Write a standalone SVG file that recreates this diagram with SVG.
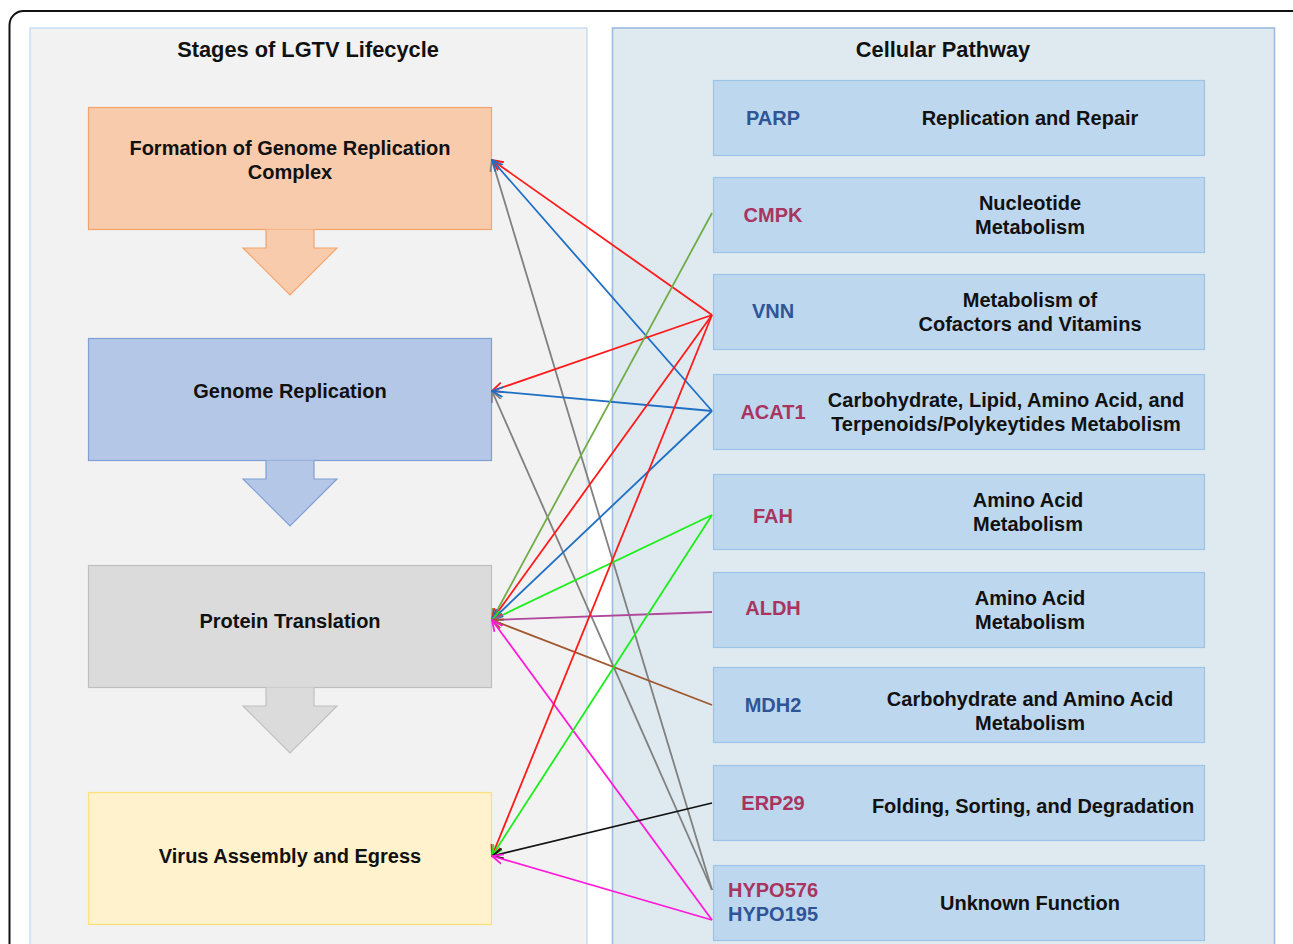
<svg xmlns="http://www.w3.org/2000/svg" width="1293" height="944" viewBox="0 0 1293 944">
<style>
text{font-family:"Liberation Sans",Arial,sans-serif;font-weight:bold;font-size:20px;text-anchor:middle;dominant-baseline:central;fill:#111}
.t{font-size:21.8px}
.pb{fill:#bdd7ee;stroke:#9dc3e6;stroke-width:1.2}
.gb{fill:#2f5597}
.gr{fill:#a9345f}
.c{fill:none;stroke-width:1.8}
</style>
<defs>
<marker id="m-red" viewBox="0 0 12 12" refX="11" refY="6" markerWidth="12" markerHeight="12" markerUnits="userSpaceOnUse" orient="auto"><path d="M0,1 L11,6 L0,11" fill="none" stroke="#ff1a1a" stroke-width="1.8"/></marker>
<marker id="m-blue" viewBox="0 0 12 12" refX="11" refY="6" markerWidth="12" markerHeight="12" markerUnits="userSpaceOnUse" orient="auto"><path d="M0,1 L11,6 L0,11" fill="none" stroke="#1f6fc4" stroke-width="1.8"/></marker>
<marker id="m-gray" viewBox="0 0 12 12" refX="11" refY="6" markerWidth="12" markerHeight="12" markerUnits="userSpaceOnUse" orient="auto"><path d="M0,1 L11,6 L0,11" fill="none" stroke="#808080" stroke-width="1.8"/></marker>
<marker id="m-olive" viewBox="0 0 12 12" refX="11" refY="6" markerWidth="12" markerHeight="12" markerUnits="userSpaceOnUse" orient="auto"><path d="M0,1 L11,6 L0,11" fill="none" stroke="#70ad47" stroke-width="1.8"/></marker>
<marker id="m-lime" viewBox="0 0 12 12" refX="11" refY="6" markerWidth="12" markerHeight="12" markerUnits="userSpaceOnUse" orient="auto"><path d="M0,1 L11,6 L0,11" fill="none" stroke="#1aef1a" stroke-width="1.8"/></marker>
<marker id="m-purple" viewBox="0 0 12 12" refX="11" refY="6" markerWidth="12" markerHeight="12" markerUnits="userSpaceOnUse" orient="auto"><path d="M0,1 L11,6 L0,11" fill="none" stroke="#b0479a" stroke-width="1.8"/></marker>
<marker id="m-brown" viewBox="0 0 12 12" refX="11" refY="6" markerWidth="12" markerHeight="12" markerUnits="userSpaceOnUse" orient="auto"><path d="M0,1 L11,6 L0,11" fill="none" stroke="#a0562e" stroke-width="1.8"/></marker>
<marker id="m-black" viewBox="0 0 12 12" refX="11" refY="6" markerWidth="12" markerHeight="12" markerUnits="userSpaceOnUse" orient="auto"><path d="M0,1 L11,6 L0,11" fill="none" stroke="#111" stroke-width="1.8"/></marker>
<marker id="m-mag" viewBox="0 0 12 12" refX="11" refY="6" markerWidth="12" markerHeight="12" markerUnits="userSpaceOnUse" orient="auto"><path d="M0,1 L11,6 L0,11" fill="none" stroke="#ff1ad9" stroke-width="1.8"/></marker>
</defs>
<rect width="1293" height="944" fill="#fff"/>
<rect x="9.5" y="11" width="1300" height="960" rx="14" fill="none" stroke="#111" stroke-width="2"/>

<g id="panel-stages">
<rect x="30" y="28" width="557" height="930" fill="#f2f2f2" stroke="#bdd7ee" stroke-width="1.2"/>
<text x="308" y="49" class="t">Stages of LGTV Lifecycle</text>
</g>
<g id="panel-pathway">
<rect x="612.5" y="28" width="662" height="930" fill="#deeaf0" stroke="#9dbbe0" stroke-width="1.6"/>
<text x="943" y="49" class="t">Cellular Pathway</text>
</g>

<g id="stage-formation">
<rect x="88.5" y="107.5" width="403" height="122" fill="#f8cbad" stroke="#f4a36b" stroke-width="1.2"/>
<path d="M266,229.5 V248 H243 L290,295 L337,248 H314 V229.5" fill="#f8cbad" stroke="#f4a36b" stroke-width="1.2"/>
<text x="290" y="148">Formation of Genome Replication</text>
<text x="290" y="172">Complex</text>
</g>
<g id="stage-genome">
<rect x="88.5" y="338.5" width="403" height="122" fill="#b4c7e7" stroke="#7f9fd6" stroke-width="1.2"/>
<path d="M266,460.5 V479 H243 L290,526 L337,479 H314 V460.5" fill="#b4c7e7" stroke="#7f9fd6" stroke-width="1.2"/>
<text x="290" y="391">Genome Replication</text>
</g>
<g id="stage-protein">
<rect x="88.5" y="565.5" width="403" height="122" fill="#dbdbdb" stroke="#bfbfbf" stroke-width="1.2"/>
<path d="M266,687.5 V706 H243 L290,753 L337,706 H314 V687.5" fill="#dbdbdb" stroke="#bfbfbf" stroke-width="1.2"/>
<text x="290" y="621">Protein Translation</text>
</g>
<g id="stage-virus">
<rect x="88.5" y="792.5" width="403" height="132" fill="#fff2cc" stroke="#ffe07a" stroke-width="1.2"/>
<text x="290" y="856">Virus Assembly and Egress</text>
</g>

<g id="parp"><rect class="pb" x="713.5" y="80.5" width="491" height="75"/><text class="gb" x="773" y="118">PARP</text><text x="1030" y="118">Replication and Repair</text></g>
<g id="cmpk"><rect class="pb" x="713.5" y="177.5" width="491" height="75"/><text class="gr" x="773" y="215">CMPK</text><text x="1030" y="203">Nucleotide</text><text x="1030" y="227">Metabolism</text></g>
<g id="vnn"><rect class="pb" x="713.5" y="274.5" width="491" height="75"/><text class="gb" x="773" y="311">VNN</text><text x="1030" y="300">Metabolism of</text><text x="1030" y="324">Cofactors and Vitamins</text></g>
<g id="acat1"><rect class="pb" x="713.5" y="374.5" width="491" height="75"/><text class="gr" x="773" y="412">ACAT1</text><text x="1006" y="400">Carbohydrate, Lipid, Amino Acid, and</text><text x="1006" y="424">Terpenoids/Polykeytides Metabolism</text></g>
<g id="fah"><rect class="pb" x="713.5" y="474.5" width="491" height="75"/><text class="gr" x="773" y="516">FAH</text><text x="1028" y="500">Amino Acid</text><text x="1028" y="524">Metabolism</text></g>
<g id="aldh"><rect class="pb" x="713.5" y="572.5" width="491" height="75"/><text class="gr" x="773" y="608">ALDH</text><text x="1030" y="598">Amino Acid</text><text x="1030" y="622">Metabolism</text></g>
<g id="mdh2"><rect class="pb" x="713.5" y="667.5" width="491" height="75"/><text class="gb" x="773" y="705">MDH2</text><text x="1030" y="699">Carbohydrate and Amino Acid</text><text x="1030" y="723">Metabolism</text></g>
<g id="erp29"><rect class="pb" x="713.5" y="765.5" width="491" height="75"/><text class="gr" x="773" y="803">ERP29</text><text x="1033" y="806">Folding, Sorting, and Degradation</text></g>
<g id="hypo"><rect class="pb" x="713.5" y="865.5" width="491" height="75"/><text class="gr" x="773" y="890">HYPO576</text><text class="gb" x="773" y="914">HYPO195</text><text x="1030" y="903">Unknown Function</text></g>

<g id="connectors">
<line class="c" stroke="#808080" x1="712" y1="890" x2="492" y2="160" marker-end="url(#m-gray)"/>
<line class="c" stroke="#808080" x1="712" y1="890" x2="492" y2="391" marker-end="url(#m-gray)"/>
<line class="c" stroke="#ff1a1a" x1="712" y1="315" x2="492" y2="160" marker-end="url(#m-red)"/>
<line class="c" stroke="#1f6fc4" x1="712" y1="411" x2="492" y2="160" marker-end="url(#m-blue)"/>
<line class="c" stroke="#ff1a1a" x1="712" y1="315" x2="492" y2="391" marker-end="url(#m-red)"/>
<line class="c" stroke="#1f6fc4" x1="712" y1="411" x2="492" y2="391" marker-end="url(#m-blue)"/>
<line class="c" stroke="#70ad47" x1="712" y1="213" x2="492" y2="620" marker-end="url(#m-olive)"/>
<line class="c" stroke="#ff1a1a" x1="712" y1="315" x2="492" y2="620" marker-end="url(#m-red)"/>
<line class="c" stroke="#1f6fc4" x1="712" y1="411" x2="492" y2="620" marker-end="url(#m-blue)"/>
<line class="c" stroke="#1aef1a" x1="712" y1="515" x2="492" y2="620" marker-end="url(#m-lime)"/>
<line class="c" stroke="#b0479a" x1="712" y1="612" x2="492" y2="620" marker-end="url(#m-purple)"/>
<line class="c" stroke="#a0562e" x1="712" y1="705" x2="492" y2="620" marker-end="url(#m-brown)"/>
<line class="c" stroke="#ff1ad9" x1="712" y1="920" x2="492" y2="620" marker-end="url(#m-mag)"/>
<line class="c" stroke="#ff1a1a" x1="712" y1="315" x2="492" y2="856" marker-end="url(#m-red)"/>
<line class="c" stroke="#1aef1a" x1="712" y1="515" x2="492" y2="856" marker-end="url(#m-lime)"/>
<line class="c" stroke="#111" x1="712" y1="803" x2="492" y2="856" marker-end="url(#m-black)"/>
<line class="c" stroke="#ff1ad9" x1="712" y1="920" x2="492" y2="856" marker-end="url(#m-mag)"/>
</g>
</svg>
